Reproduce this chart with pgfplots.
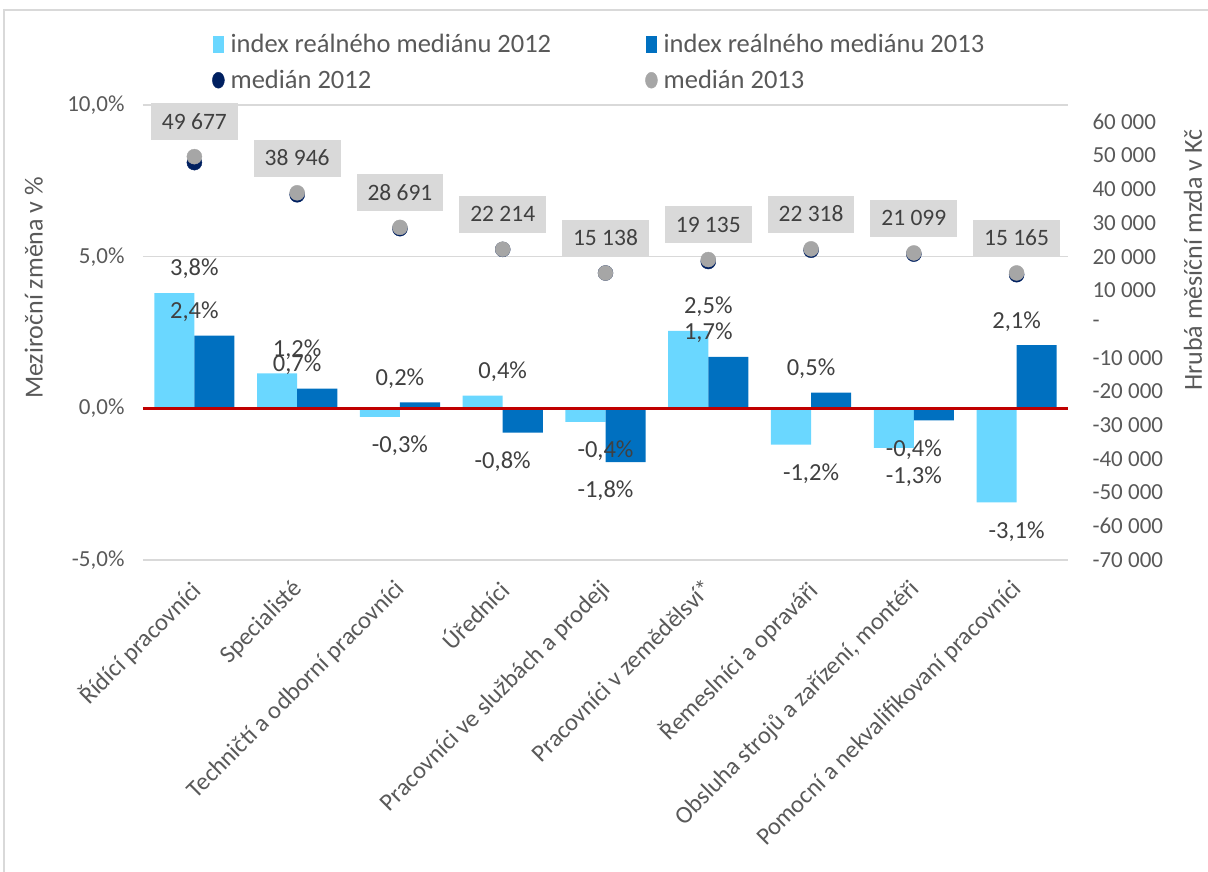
\documentclass[border=0pt]{standalone}
\usepackage{pgfplots}
\pgfplotsset{compat=1.18}
\usepackage{fontspec}
\setmainfont{Carlito}
\definecolor{lblue}{HTML}{6AD7FF}
\definecolor{dblue}{HTML}{0070C0}
\definecolor{navy}{HTML}{002060}
\definecolor{mgrey}{HTML}{A6A6A6}
\definecolor{boxgrey}{HTML}{D9D9D9}
\definecolor{txt}{HTML}{595959}
\definecolor{lab}{HTML}{404040}
\definecolor{gridc}{HTML}{D9D9D9}
\definecolor{zred}{HTML}{C00000}
\newcommand{\tickfont}{\fontsize{23}{27}\selectfont}
\newcommand{\xtickfont}{\fontsize{24.5}{29}\selectfont}
\newcommand{\labfont}{\fontsize{24.5}{29}\selectfont}
\newcommand{\boxfont}{\fontsize{23.5}{28}\selectfont}
\newcommand{\titlefont}{\fontsize{26}{30}\selectfont}
\begin{document}
\begin{tikzpicture}[x=1pt,y=1pt]
\path[use as bounding box] (0,0) rectangle (1208,872);
\draw[gridc, line width=1.5pt] (4,-5) -- (4,862) -- (1215,862);
\begin{axis}[
  at={(143pt,312pt)}, anchor=south west,
  scale only axis, width=925pt, height=455pt,
  xmin=-0.5, xmax=8.5, ymin=-5, ymax=10,
  ytick={-5,0,5,10},
  yticklabels={{-5,0\%},{0,0\%},{5,0\%},{10,0\%}},
  xtick={0,1,2,3,4,5,6,7,8},
  xticklabels={Řídící pracovníci, Specialisté, Techničtí a odborní pracovníci, Úředníci, Pracovníci ve službách a prodeji, Pracovníci v zemědělsví*, Řemeslníci a opraváři, {Obsluha strojů a zařízení, montéři}, Pomocní a nekvalifikovaní pracovníci},
  x tick label style={xshift=-6pt, yshift=-13pt, rotate=45, anchor=north east, font=\xtickfont, text=txt},
  y tick label style={font=\tickfont, text=txt, xshift=-15pt},
  axis line style={draw=none},
  major tick length=0pt,
  ymajorgrids, grid style={gridc, line width=1.5pt},
  ylabel={Meziroční změna v \%},
  every axis y label/.style={at={(axis description cs:-0.118,0.598)}, rotate=90, anchor=center, font=\titlefont, text=txt},
  clip=false,
]
\addplot[ybar, bar width=0.39, bar shift=-0.195, fill=lblue, draw=none,
  nodes near coords, point meta=explicit symbolic,
  visualization depends on={rawy \as \rawy},
  nodes near coords style={anchor=center, font=\labfont, text=lab, yshift={ifthenelse(\rawy>0,24,-29)}}]
  coordinates {(0,3.8) [3,8\%] (1,1.15) [1,2\%] (2,-0.28) [-0,3\%] (3,0.42) [0,4\%] (4,-0.45) [-0,4\%] (5,2.55) [2,5\%] (6,-1.2) [-1,2\%] (7,-1.3) [-1,3\%] (8,-3.1) [-3,1\%]};
\addplot[ybar, bar width=0.39, bar shift=0.195, fill=dblue, draw=none,
  nodes near coords, point meta=explicit symbolic,
  visualization depends on={rawy \as \rawy},
  nodes near coords style={anchor=center, font=\labfont, text=lab, yshift={ifthenelse(\rawy>0,24,-29)}}]
  coordinates {(0,2.4) [2,4\%] (1,0.65) [0,7\%] (2,0.2) [0,2\%] (3,-0.8) [-0,8\%] (4,-1.77) [-1,8\%] (5,1.7) [1,7\%] (6,0.52) [0,5\%] (7,-0.4) [-0,4\%] (8,2.08) [2,1\%]};
\addplot[zred, line width=2.5pt, forget plot] coordinates {(-0.5,0) (8.5,0)};
\end{axis}
\begin{axis}[
  at={(143pt,312pt)}, anchor=south west,
  scale only axis, width=925pt, height=455pt,
  xmin=-0.5, xmax=8.5, ymin=-70000, ymax=65000,
  axis x line=none, axis y line*=right,
  axis line style={draw=none},
  major tick length=0pt,
  scaled y ticks=false,
  ytick={-70000,-60000,-50000,-40000,-30000,-20000,-10000,0,10000,20000,30000,40000,50000,60000},
  yticklabels={-70 000,-60 000,-50 000,-40 000,-30 000,-20 000,-10 000,-,10 000,20 000,30 000,40 000,50 000,60 000},
  y tick label style={font=\tickfont, text=txt, xshift=21pt},
  ylabel={Hrubá měsíční mzda v Kč},
  every axis y label/.style={at={(axis description cs:1.135,0.659)}, rotate=90, anchor=center, font=\titlefont, text=txt},
  legend columns=2,
  legend cell align=left,
  legend style={at={(axis description cs:0.0746,1.16)}, anchor=north west, draw=none, fill=none, font=\fontsize{26.5}{31}\selectfont, text=txt,
    /tikz/every even column/.append style={column sep=92pt},
    /tikz/every odd column/.append style={column sep=4pt},
    /tikz/row sep=12pt, inner sep=0pt},
  clip=false,
]
\addlegendimage{legend image code/.code={\fill[lblue] (0pt,-8pt) rectangle (10pt,8pt);}}
\addlegendentry{index reálného mediánu 2012}
\addlegendimage{legend image code/.code={\fill[dblue] (0pt,-8pt) rectangle (10pt,8pt);}}
\addlegendentry{index reálného mediánu 2013}
\addplot[only marks, mark=*, mark size=7.5pt, mark options={fill=navy, draw=navy},
  legend image code/.code={\fill[navy] (5pt,0pt) ellipse (6pt and 8pt);}]
  coordinates {(0,47900) (1,38350) (2,28300) (3,22150) (4,15150) (5,18550) (6,21900) (7,20750) (8,14650)};
\addlegendentry{medián 2012}
\addplot[only marks, mark=*, mark size=7.5pt, mark options={fill=mgrey, draw=mgrey},
  legend image code/.code={\fill[mgrey] (5pt,0pt) ellipse (6pt and 8pt);},
  nodes near coords, point meta=explicit symbolic,
  nodes near coords style={anchor=south, yshift=16pt, font=\boxfont, text=lab, fill=boxgrey, inner xsep=11pt, inner ysep=11pt, text height=15pt, text depth=0pt}]
  coordinates {(0,49677) [49 677] (1,38946) [38 946] (2,28691) [28 691] (3,22214) [22 214] (4,15138) [15 138] (5,19135) [19 135] (6,22318) [22 318] (7,21099) [21 099] (8,15165) [15 165]};
\addlegendentry{medián 2013}
\end{axis}
\end{tikzpicture}
\end{document}
